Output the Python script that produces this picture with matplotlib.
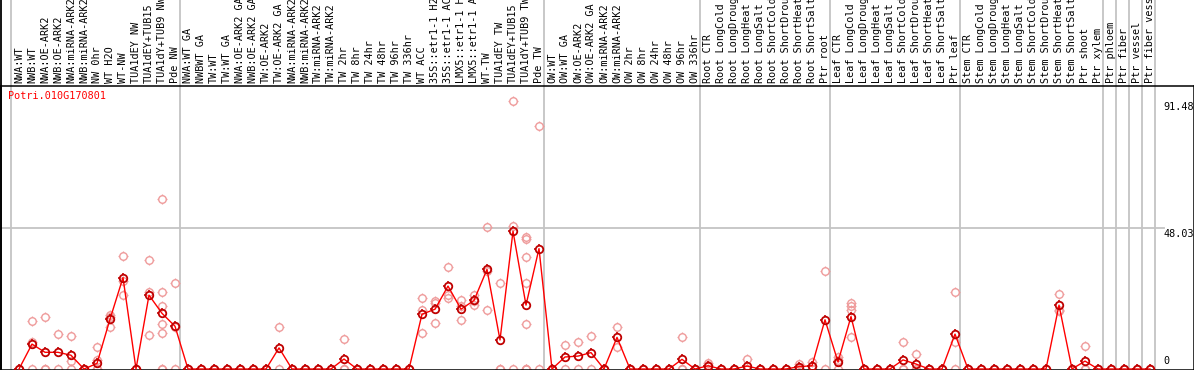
import numpy as np
import matplotlib
matplotlib.use("Agg")
import matplotlib.pyplot as plt
from matplotlib.path import Path
from matplotlib.transforms import blended_transform_factory

plt.rcParams['font.family'] = ['DejaVu Sans Mono']

gene = "Potri.010G170801"

labels = [
    "NWA:WT", "NWB:WT", "NWA:OE-ARK2", "NWB:OE-ARK2", "NWA:miRNA-ARK2", "NWB:miRNA-ARK2",
    "NW 0hr", "WT H2O", "WT-NW", "TUA1dEY NW", "TUA1dEY+TUB15", "TUA1dY+TUB9 NW", "Pde NW",
    "NWA:WT GA", "NWBWT GA", "TW:WT", "TW:WT GA", "NWA:OE-ARK2 GA", "NWB:OE-ARK2 GA",
    "TW:OE-ARK2", "TW:OE-ARK2 GA", "NWA:miRNA-ARK2", "NWB:miRNA-ARK2", "TW:miRNA-ARK2",
    "TW:miRNA-ARK2", "TW 2hr", "TW 8hr", "TW 24hr", "TW 48hr", "TW 96hr", "TW 336hr",
    "WT ACC", "35S::etr1-1 H2", "35S::etr1-1 AC", "LMX5::etr1-1 H", "LMX5::etr1-1 A",
    "WT-TW", "TUA1dEY TW", "TUA1dEY+TUB15", "TUA1dY+TUB9 TW", "Pde TW",
    "OW:WT", "OW:WT GA", "OW:OE-ARK2", "OW:OE-ARK2 GA", "OW:miRNA-ARK2", "OW:miRNA-ARK2",
    "OW 2hr", "OW 8hr", "OW 24hr", "OW 48hr", "OW 96hr", "OW 336hr",
    "Root CTR", "Root LongCold", "Root LongDroug", "Root LongHeat", "Root LongSalt",
    "Root ShortCold", "Root ShortDrou", "Root ShortHeat", "Root ShortSalt", "Ptr root",
    "Leaf CTR", "Leaf LongCold", "Leaf LongDroug", "Leaf LongHeat", "Leaf LongSalt",
    "Leaf ShortCold", "Leaf ShortDrou", "Leaf ShortHeat", "Leaf ShortSalt", "Ptr leaf",
    "Stem CTR", "Stem LongCold", "Stem LongDroug", "Stem LongHeat", "Stem LongSalt",
    "Stem ShortCold", "Stem ShortDrou", "Stem ShortHeat", "Stem ShortSalt", "Ptr shoot",
    "Ptr xylem", "Ptr phloem", "Ptr fiber", "Ptr vessel", "Ptr fiber vess",
]

means = [
    0, 8.5, 5.7, 5.7, 4.7, 0, 1.9, 17.0, 31.2, 0, 25.2, 19.0, 14.6,
    0, 0, 0, 0, 0, 0, 0, 7.2, 0, 0, 0, 0, 3.4, 0, 0, 0, 0, 0,
    18.7, 20.4, 28.3, 20.4, 23.4, 34.0, 9.9, 47.0, 21.8, 41.1,
    0, 4.1, 4.4, 5.6, 0, 10.8, 0, 0, 0, 0, 3.3, 0,
    1.1, 0, 0, 1.0, 0, 0, 0, 0.8, 1.1, 16.8,
    2.4, 17.9, 0, 0, 0, 3.1, 1.7, 0, 0, 11.9,
    0, 0, 0, 0, 0, 0, 0, 21.8, 0, 2.7,
    0, 0, 0, 0, 0,
]

z = [0, 0, 0]
replicates = [
    z, [16.5, 9.3, 0], [17.9, 0, 0], [11.8, 0], [11.2, 2.8, 0], z, [7.4, 3.1, 0, 0],
    [18.6, 17.8, 14.4], [38.5, 30.1, 25.1], z, [37.1, 26.3, 11.5],
    [57.9, 26.2, 21.5, 15.3, 12.2, 0, 0], [29.3, 14.5, 0],
    z, z, z, z, z, z, z, [14.5, 0], z, z, z, z, [10.2, 0, 0], z, z, z, z, z,
    [24.1, 20.1, 12.2], [23.2, 22.6, 15.6], [34.7, 25.2, 24.1], [23.5, 21.5, 16.7],
    [25.2, 23.2, 21.8], [48.3, 33.5, 20.3], [29.5, 0, 0], [91.48, 48.8, 0],
    [45.1, 44.5, 38.1, 29.5, 15.2, 0, 0, 0], [82.8, 0],
    z, [8.1, 0], [9.1, 0], [11.2, 0], z, [14.2, 7.6], z, z, z, z, [10.8, 0, 0], z,
    [1.9, 1.3, 0], z, z, [3.4, 0, 0], z, z, z, [1.7, 0.5, 0], [2.5, 1.0, 0], [33.6, 0],
    [4.0, 3.1, 0], [22.6, 21.5, 20.3, 10.8], z, z, z, [9.2, 0, 0], [5.1, 0, 0], z, z,
    [26.2, 9.3, 0],
    z, z, z, z, z, z, z, [25.5, 20.3, 19.9], z, [7.9, 0, 0],
    z, z, z, z, z,
]

# last column of each block, a gray divider goes right after it
group_ends = [-1, 12, 40, 52, 62, 72, 83, 84, 85, 86, 87]
axis_marks = [91.48, 48.03, 0]

W, H = 1194, 370
fig = plt.figure(figsize=(W / 100, H / 100), dpi=100)

# pixel geometry of the plot box
top_px, bot_px = 86, 369.5
ax = fig.add_axes([0.5 / W, (H - bot_px) / H, 1193 / W, (bot_px - top_px) / H])
x0, dx = 19, 13.0
ax.set_xlim(-(x0 - 0.5) / dx, (1193.5 - x0) / dx)
scale = 2.93
ax.set_ylim(-(bot_px - 369) / scale, (369 - top_px) / scale)
ax.set_xticks([])
ax.set_yticks([])
for s in ax.spines.values():
    s.set_linewidth(1.1)
    s.set_color('black')

# four short stubs around the ring marker
stubs = Path([[0, 1], [0, 1.4], [0, -1], [0, -1.4], [1, 0], [1.4, 0], [-1, 0], [-1.4, 0]],
             [Path.MOVETO, Path.LINETO] * 4)
ms_stub = 7.6
ms_ring = ms_stub / 1.4


def rings(x, y, color, lw, zo):
    ax.plot(x, y, linestyle='none', marker='o', ms=ms_ring, mfc='none',
            mec=color, mew=lw, zorder=zo)
    ax.plot(x, y, linestyle='none', marker=stubs, ms=ms_stub,
            mec=color, mew=lw * 0.9, zorder=zo)


xs = np.arange(len(labels))
ext = 1 + top_px / (bot_px - top_px)
for g in group_ends:
    ax.axvline(g + 0.38, ymin=0, ymax=ext, color='#c4c4c4', lw=1.3, clip_on=False, zorder=1)
ax.axvline(ax.get_xlim()[0], ymin=0, ymax=ext, color='black', lw=1.3, clip_on=False)

ax.axhline(axis_marks[1], xmax=1163 / 1193, color='#c4c4c4', lw=1.3, zorder=1)

for x, reps in zip(xs, replicates):
    rings([x] * len(reps), reps, '#ef9a9a', 1.0, 2)

ax.plot(xs, means, color='#ff0000', lw=1.0, zorder=3)
rings(xs, means, '#c00000', 1.3, 4)

lab_tr = blended_transform_factory(ax.transData, ax.transAxes)
for x, lab in zip(xs, labels):
    ax.text(x, 1 + 3 / (bot_px - top_px), lab, transform=lab_tr, rotation=90,
            ha='center', va='bottom', fontsize=7.3, clip_on=False)

xlab = (1163 - x0) / dx
ax.text(xlab, axis_marks[0] - 0.4, "%.2f" % axis_marks[0], ha='left', va='top', fontsize=7.3)
ax.text(xlab, axis_marks[1] - 0.3, "%.2f" % axis_marks[1], ha='left', va='top', fontsize=7.3)
ax.text(xlab, 1.0, "0", ha='left', va='bottom', fontsize=7.3)

fig.text(8 / W, 1 - 91 / H, gene, color='#ff0000', ha='left', va='top', fontsize=7.3)

fig.savefig("out.png", dpi=100)
